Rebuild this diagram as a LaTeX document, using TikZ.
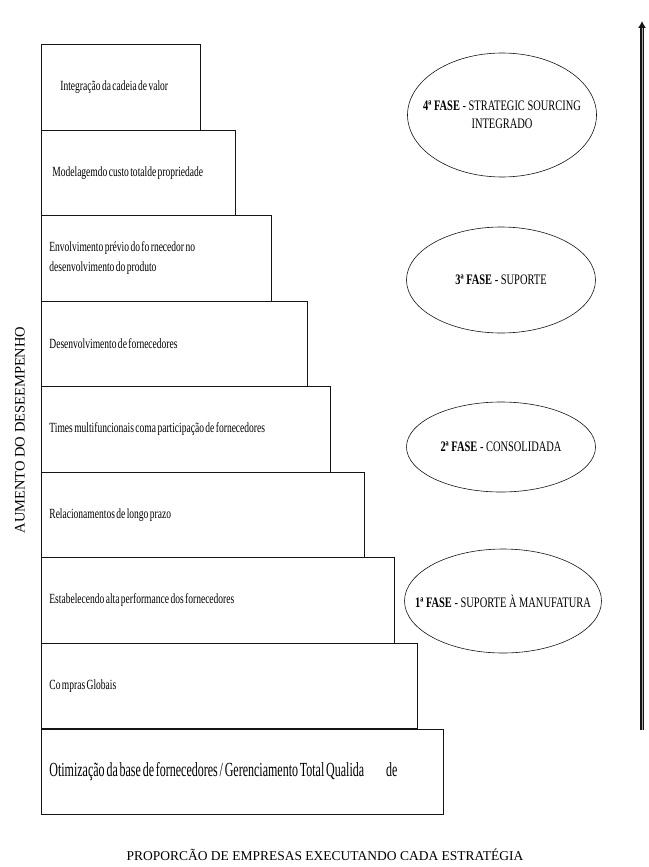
\documentclass[tikz,border=0pt]{standalone}
\usepackage{fontspec}
\setmainfont{Liberation Serif}
\newfontfamily\narrowserif[FakeStretch=0.68, WordSpace=0.6]{Liberation Serif}
\newfontfamily\narrowerserif[FakeStretch=0.6, WordSpace=0.6]{Liberation Serif}
\newfontfamily\phaseserif[FakeStretch=0.72]{Liberation Serif}
\usetikzlibrary{arrows.meta,shapes.geometric,positioning}
\definecolor{stepline}{RGB}{20,20,20}
\definecolor{arrowgray}{RGB}{170,170,170}

\tikzset{
  stepbox/.style={draw=stepline, line width=0.8pt, rectangle, anchor=north west,
    minimum height=85.56pt, inner ysep=0pt, align=left,
    font=\narrowserif\fontsize{14}{20}\selectfont},
  phase/.style={draw=stepline, line width=0.6pt, ellipse, inner sep=0pt},
  phasetext/.style={align=center, font=\phaseserif\fontsize{14.5}{18}\selectfont},
}

\begin{document}
\begin{tikzpicture}[x=1pt, y=-1pt]
\useasboundingbox (0,0) rectangle (648,867);

%% ── STAIRCASE of strategies ───────────────────────────────────────────────
% \i = step from the top, \w = width, \ind = text indent
\foreach \i/\w/\ind/\txt in {
    1/159/19/{Integração da cadeia de valor},
    2/194/11/{Modelagemdo custo totalde propriedade},
    3/230/8/{Envolvimento prévio do fo rnecedor no\\desenvolvimento do produto},
    4/266/8/{Desenvolvimento de fornecedores},
    5/289/8/{Times multifuncionais coma participação de fornecedores},
    6/323/8/{Relacionamentos de longo prazo},
    7/353/8/{Estabelecendo alta performance dos fornecedores},
    8/376/8/{Co mpras Globais}}{
  \node[stepbox, inner xsep=\ind pt, text width={(\w-2*\ind)*1pt}]
    (step\i) at (41,{44+(\i-1)*85.56}) {\spaceskip=0pt\relax\txt};
}

% Bottom step, larger text
\node[stepbox, inner xsep=8pt, text width=386pt,
      font=\narrowerserif\fontsize{20}{22}\selectfont]
  (step9) at (41,728.5)
  {\spaceskip=0pt\relax Otimização da base de fornecedores / Gerenciamento Total Qualida\hspace{22pt}de};

%% ── PHASES (ellipses) ─────────────────────────────────────────────────────
\node[phase, minimum width=189pt, minimum height=124pt] (p4) at (502,115) {};
\node[phasetext] (p4t) at (p4) {\textbf{4ª FASE} - STRATEGIC SOURCING\\INTEGRADO};

\node[phase, minimum width=189pt, minimum height=106pt] (p3) at (501,280) {};
\node[phasetext] (p3t) at (p3) {\textbf{3ª FASE} - SUPORTE};

\node[phase, minimum width=189pt, minimum height=90pt] (p2) at (501,447) {};
\node[phasetext] (p2t) at (p2) {\textbf{2ª FASE} - CONSOLIDADA};

\node[phase, minimum width=197pt, minimum height=104pt] (p1) at (503,601) {};
\node[phasetext] (p1t) at (p1) {\textbf{1ª FASE} - SUPORTE À MANUFATURA};

%% ── PERFORMANCE ARROW ─────────────────────────────────────────────────────
\coordinate (arrbot) at (642,730);
\coordinate (arrtop) at (642,21);
\draw[stepline, line width=1.1pt, double=arrowgray, double distance=1pt,
      -{Latex[length=7pt,width=8pt]}] (arrbot) -- (arrtop);

%% ── AXIS LABELS ───────────────────────────────────────────────────────────
\node[rotate=90, font=\fontsize{14.5}{16}\selectfont] (ylabel) at (20,430)
  {AUMENTO DO DESEEMPENHO};
\node[font=\fontsize{13.5}{16}\selectfont] (xlabel) at (325,855)
  {PROPORCÃO DE EMPRESAS EXECUTANDO CADA ESTRATÉGIA};

\end{tikzpicture}
\end{document}
